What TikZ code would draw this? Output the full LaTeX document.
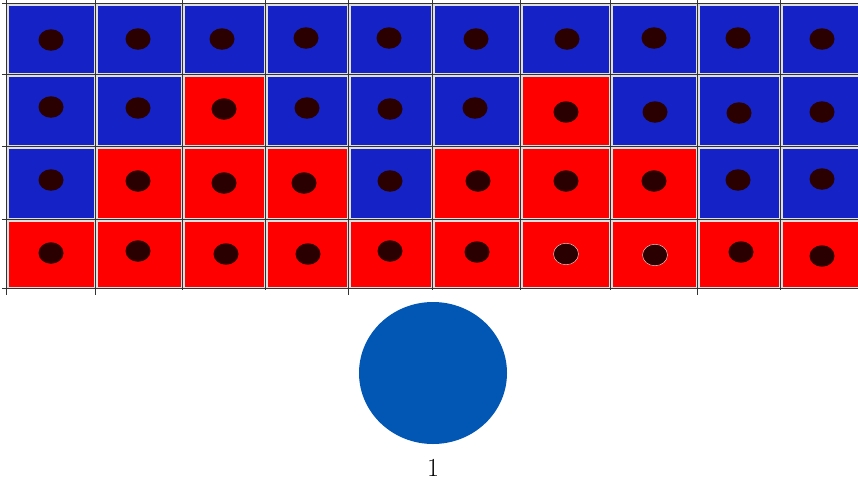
\documentclass[tikz,border=0pt]{standalone}
\usetikzlibrary{positioning,shapes.geometric}

\definecolor{cellblue}{RGB}{21,34,198}
\definecolor{cellred}{RGB}{255,0,0}
\definecolor{dotbrown}{RGB}{42,0,0}
\definecolor{ballblue}{RGB}{3,87,180}

\tikzset{
  gridline/.style = {line width = 0.8pt, black!80},
  cellbox/.style  = {draw = gray!25, line width = 1.4pt, inner sep = 0pt},
  dot/.style      = {ellipse, fill = dotbrown, inner sep = 0pt,
                     minimum width = 25pt, minimum height = 21.5pt},
  dotrim/.style   = {dot, draw = red!25!white, line width = 0.5pt},
}
\def\blueletter{b}

\begin{document}
\begin{tikzpicture}[x = 1pt, y = -1pt]
    \useasboundingbox (0, 0) rectangle (858, 482);
    % cells, b = blue, r = red
    \foreach \r/\ya/\yb/\cols in {
        1/3/74/{b,b,b,b,b,b,b,b,b,b},
        2/74/146/{b,b,r,b,b,b,r,b,b,b},
        3/146/219/{b,r,r,r,b,r,r,r,b,b},
        4/219/288/{r,r,r,r,r,r,r,r,r,r}} {
        \foreach \col [count = \c] in \cols {
            \pgfmathsetmacro\xa{{6,95,182,265,348,432,520,610,697,780,862}[\c-1]}
            \pgfmathsetmacro\xb{{6,95,182,265,348,432,520,610,697,780,862}[\c]}
            \ifx\col\blueletter\def\cellcol{cellblue}\else\def\cellcol{cellred}\fi
            \node[cellbox, fill = \cellcol, anchor = north west,
                  minimum width = {\xb - \xa - 2.4pt}, minimum height = {\yb - \ya - 2.4pt}]
                (c-\r-\c) at (\xa + 1.2, \ya + 1.2) {};
        }
    }
    % grid lines and ticks
    \foreach \y in {3, 74, 146, 219, 288}
        \draw[gridline] (2, \y) -- (858, \y);
    \foreach \x in {6, 95, 182, 265, 348, 432, 520, 610, 697, 780}
        \draw[gridline] (\x, 0) -- (\x, 290);
    \foreach \x in {6, 95, 348, 697}
        \draw[gridline] (\x, 288) -- (\x, 295);
    % dots
    \foreach \r/\pts in {
        1/{51/40, 138/39, 222/39, 306/38, 389/38, 476/39, 567/39, 654/38, 738/38, 822/39},
        2/{51/107, 138/108, 224/109, 307/108, 390/109, 475/108, 566/112, 655/112, 739/113, 822/112},
        3/{51/180, 138/181, 224/183, 304/183, 390/181, 478/181, 566/181, 654/181, 738/180, 822/179},
        4/{51/253, 138/251, 226/254, 308/254, 390/251, 477/252, 566/254, 655/255, 741/252, 822/256}} {
        \foreach \px/\py [count = \c] in \pts
            \node[dot] (d-\r-\c) at (\px, \py) {};
    }
    \node[dotrim] at (d-4-7) {};
    \node[dotrim] at (d-4-8) {};
    % ball and its label
    \node[ellipse, fill = ballblue, minimum width = 148pt, minimum height = 142pt]
        (ball) at (433, 373) {};
    \node[below = 15pt of ball, inner sep = 0pt, font = \fontsize{26}{30}\selectfont]
        (lbl) {1};
\end{tikzpicture}
\end{document}
